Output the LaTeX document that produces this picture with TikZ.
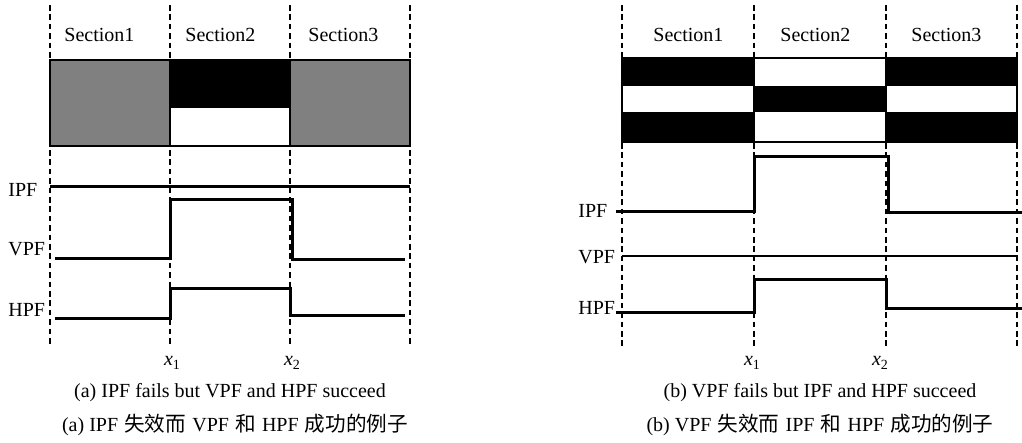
\documentclass[tikz,border=0pt]{standalone}
\usepackage{fontspec}
\setmainfont{Liberation Serif}
\newfontfamily\cjk{Noto Sans CJK SC}[Scale=1.03]
\newcommand{\cjsp}{\kern0.6pt}
\begin{document}
\begin{tikzpicture}[x=0.5pt,y=-0.5pt,
  vdash/.style={line width=0.8pt,dash pattern=on 2.8pt off 1.9pt},
  sig/.style={line width=1.5pt},
  lbl/.style={font=\fontsize{10}{12}\selectfont,inner sep=0pt},
  captxt/.style={font=\fontsize{10}{12}\selectfont,inner sep=0pt},
  xl/.style={font=\fontsize{10}{12}\selectfont,inner sep=0pt}]
\useasboundingbox (0,0) rectangle (1022,443);
% ---------------- panel (a) ----------------
\foreach \x in {50,170,290,410}{
  \draw[vdash] (\x,5) -- (\x,58);
  \draw[vdash] (\x,150) -- (\x,347);
}
\fill[black!50] (50,60) rectangle (170,146);
\fill[black!50] (290,60) rectangle (410,146);
\fill[black] (170,60) rectangle (290,108);
\draw[line width=0.6pt] (50,60) rectangle (410,146);
\draw[line width=0.6pt] (170,60) -- (170,146) (290,60) -- (290,146);
\node[lbl,anchor=west] (aS1) at (64,35) {Section1};
\node[lbl,anchor=west] (aS2) at (185,35) {Section2};
\node[lbl,anchor=west] (aS3) at (308,35) {Section3};
\node[lbl,anchor=west] (aIPF) at (8,190) {IPF};
\node[lbl,anchor=west] (aVPF) at (8,249) {VPF};
\node[lbl,anchor=west] (aHPF) at (8,310) {HPF};
\draw[sig] (50,187) -- (410,187);
\draw[sig] (55,259) -- (170,259) -- (170,200) -- (292,200) -- (292,260) -- (405,260);
\draw[sig] (55,318) -- (170,318) -- (170,288) -- (290,288) -- (290,315) -- (405,315);
\node[xl] (ax1) at (172,363) {\textit{x}\raisebox{-0.35ex}{\fontsize{7}{8}\selectfont 1}};
\node[xl] (ax2) at (292,363) {\textit{x}\raisebox{-0.35ex}{\fontsize{7}{8}\selectfont 2}};
\node[captxt] (acapE) at (230,393) {(a) IPF fails but VPF and HPF succeed};
\node[captxt] (acapC) at (235,425) {(a) IPF\cjsp{} {\cjk 失效而}\cjsp{} VPF\cjsp{} {\cjk 和}\cjsp{} HPF\cjsp{} {\cjk 成功的例子}};
% ---------------- panel (b) ----------------
\foreach \x in {622,754,886,1017}{
  \draw[vdash] (\x,5) -- (\x,57);
  \draw[vdash] (\x,143) -- (\x,347);
}
\fill[black] (622,58) rectangle (754,86);
\fill[black] (622,112) rectangle (754,142);
\fill[black] (886,58) rectangle (1017,86);
\fill[black] (886,112) rectangle (1017,142);
\fill[black] (754,86) rectangle (886,112);
\draw[line width=0.6pt] (622,58) rectangle (1017,142);
\draw[line width=0.6pt] (754,58) -- (754,142) (886,58) -- (886,142);
\node[lbl,anchor=west] (bS1) at (653,35) {Section1};
\node[lbl,anchor=west] (bS2) at (780,35) {Section2};
\node[lbl,anchor=west] (bS3) at (911,35) {Section3};
\node[lbl,anchor=west] (bIPF) at (578,211) {IPF};
\node[lbl,anchor=west] (bVPF) at (578,257) {VPF};
\node[lbl,anchor=west] (bHPF) at (578,308) {HPF};
\draw[sig] (616,212) -- (754,212) -- (754,157) -- (888,157) -- (888,213) -- (1022,213);
\draw[line width=1.1pt] (622,256) -- (1018,256);
\draw[sig] (616,312) -- (754,312) -- (754,279) -- (886,279) -- (886,308) -- (1022,308);
\node[xl] (bx1) at (752,363) {\textit{x}\raisebox{-0.35ex}{\fontsize{7}{8}\selectfont 1}};
\node[xl] (bx2) at (880,363) {\textit{x}\raisebox{-0.35ex}{\fontsize{7}{8}\selectfont 2}};
\node[captxt] (bcapE) at (820,393) {(b) VPF fails but IPF and HPF succeed};
\node[captxt] (bcapC) at (820,425) {(b) VPF\cjsp{} {\cjk 失效而}\cjsp{} IPF\cjsp{} {\cjk 和}\cjsp{} HPF\cjsp{} {\cjk 成功的例子}};
\end{tikzpicture}
\end{document}
